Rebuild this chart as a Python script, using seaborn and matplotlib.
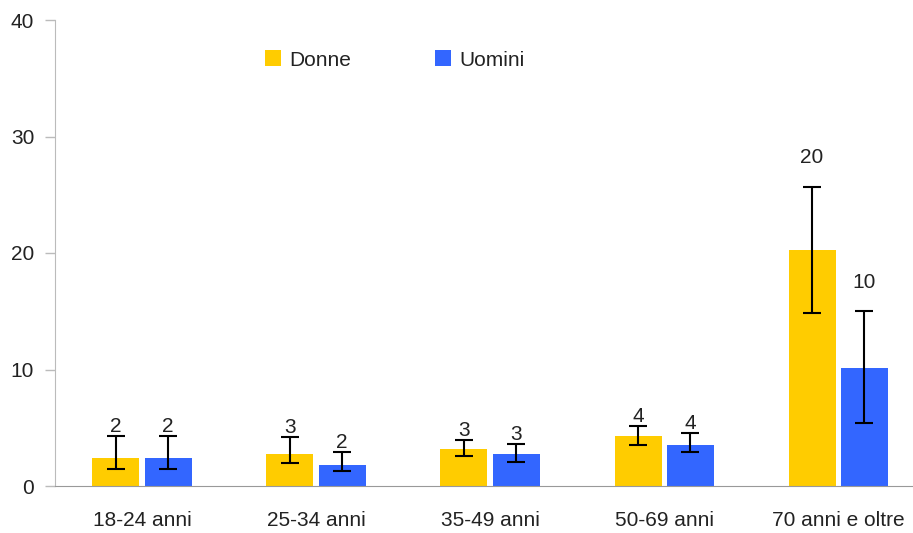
import matplotlib
matplotlib.use("Agg")
from matplotlib import pyplot as plt
import seaborn as sns
import pandas as pd
import numpy as np

categories = ["18-24 anni", "25-34 anni", "35-49 anni", "50-69 anni", "70 anni e oltre"]
donne = [2.4, 2.75, 3.2, 4.3, 20.3]
donne_lo = [1.5, 2.0, 2.6, 3.5, 14.85]
donne_hi = [4.3, 4.2, 3.95, 5.15, 25.7]
uomini = [2.4, 1.8, 2.75, 3.5, 10.1]
uomini_lo = [1.5, 1.3, 2.1, 2.9, 5.4]
uomini_hi = [4.3, 2.9, 3.6, 4.55, 15.0]
labels_donne = ["2", "3", "3", "4", "20"]
labels_uomini = ["2", "2", "3", "4", "10"]

df = pd.DataFrame({
    "classe": categories * 2,
    "sesso": ["Donne"] * 5 + ["Uomini"] * 5,
    "valore": donne + uomini,
})

sns.set_style("white")
plt.rcParams["font.family"] = ["Liberation Sans", "DejaVu Sans"]
text_col = "#222222"

fig = plt.figure(figsize=(9.13, 5.33), dpi=100)
ax = fig.add_axes([55 / 913, 47 / 533, 858 / 913, 466 / 533])

sns.barplot(data=df, x="classe", y="valore", hue="sesso",
            palette={"Donne": "#FFCC00", "Uomini": "#3366FF"},
            width=0.6, gap=0.1, saturation=1, errorbar=None, linewidth=0, ax=ax)

# error bars and labels, positioned from the drawn bars
bars = ax.patches[:10]
series = [(donne, donne_lo, donne_hi, labels_donne), (uomini, uomini_lo, uomini_hi, labels_uomini)]
for s, (vals, lo, hi, labs) in enumerate(series):
    for i in range(5):
        p = bars[s * 5 + i]
        xc = p.get_x() + p.get_width() / 2
        ax.errorbar(xc, vals[i], yerr=[[vals[i] - lo[i]], [hi[i] - vals[i]]],
                    fmt="none", ecolor="black", elinewidth=1.5, capsize=6.5, capthick=1.5)
        off = 14 if vals[i] >= 10 else 0
        ax.annotate(labs[i], (xc, hi[i]), xytext=(0, off), textcoords="offset points",
                    ha="center", va="bottom", fontsize=15, color=text_col)

ax.set_xlim(-0.5, 4.43)
ax.set_ylim(0, 40)
ax.set_yticks([0, 10, 20, 30, 40])
ax.set_xlabel("")
ax.set_ylabel("")

ax.set_xticks(np.arange(5))
ax.set_xticklabels(categories)
ax.set_xticks(np.arange(5) - 0.5, minor=True)
ax.tick_params(axis="x", which="major", length=0, pad=18, labelsize=15, labelcolor=text_col)
ax.tick_params(axis="x", which="minor", length=7, width=1, color="#999999", direction="out")
ax.tick_params(axis="y", length=7, width=1, color="#bbbbbb", direction="out",
               labelsize=15, labelcolor=text_col, pad=8, left=True)

for side in ["top", "right"]:
    ax.spines[side].set_visible(False)
ax.spines["left"].set_color("#bbbbbb")
ax.spines["bottom"].set_color("#999999")

leg = ax.legend(loc="center", bbox_to_anchor=(0.396, 0.914), ncol=2, frameon=False,
                fontsize=15, handlelength=0.8, handleheight=0.8, handletextpad=0.4,
                columnspacing=4.0, labelcolor=text_col)

fig.savefig("out.png", dpi=100)
